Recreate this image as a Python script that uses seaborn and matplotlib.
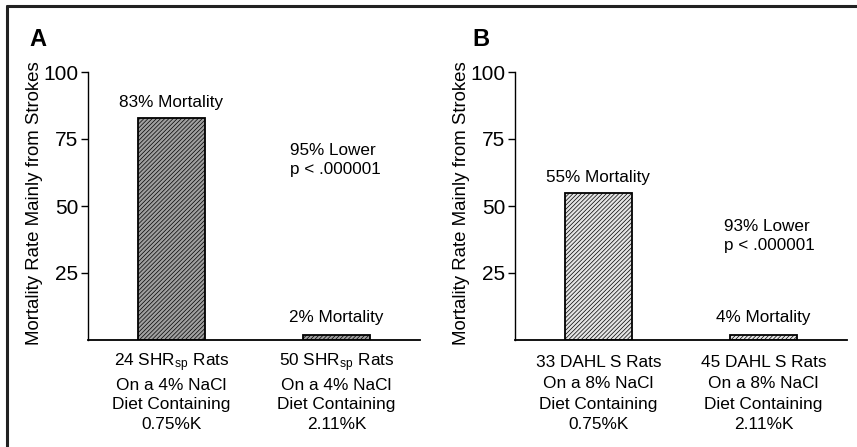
import matplotlib
matplotlib.use("Agg")
import matplotlib.pyplot as plt
import seaborn as sns
import pandas as pd
from matplotlib.lines import Line2D

# ---- data ----
cats_a = ["24 SHR$_{sp}$ Rats\nOn a 4% NaCl\nDiet Containing\n0.75%K",
          "50 SHR$_{sp}$ Rats\nOn a 4% NaCl\nDiet Containing\n2.11%K"]
vals_a = [83, 2]
bar_text_a = ["83% Mortality", "2% Mortality"]
note_a = "95% Lower\np < .000001"

cats_b = ["33 DAHL S Rats\nOn a 8% NaCl\nDiet Containing\n0.75%K",
          "45 DAHL S Rats\nOn a 8% NaCl\nDiet Containing\n2.11%K"]
vals_b = [55, 2]
bar_text_b = ["55% Mortality", "4% Mortality"]
note_b = "93% Lower\np < .000001"

yticks = [25, 50, 75, 100]
ylabel = "Mortality Rate Mainly from Strokes"

sns.set_theme(style="ticks")
plt.rcParams["font.family"] = ["Liberation Sans", "DejaVu Sans"]
plt.rcParams["mathtext.default"] = "regular"
plt.rcParams["hatch.linewidth"] = 0.5
plt.rcParams["text.color"] = "black"
plt.rcParams["xtick.color"] = "black"
plt.rcParams["ytick.color"] = "black"
plt.rcParams["xtick.labelcolor"] = "black"
plt.rcParams["ytick.labelcolor"] = "black"

W, H = 857, 447
fig = plt.figure(figsize=(W / 100, H / 100), dpi=100)

def fx(px):
    return px / W

def fy(py):
    return 1 - py / H

panels = [
    (0, cats_a, vals_a, bar_text_a, note_a, "A", "#a0a0a0", "#303030", (290, 160), 0),
    (427, cats_b, vals_b, bar_text_b, note_b, "B", "#e4e4e4", "#808080", (297, 236), 1),
]

for off, cats, vals, btxt, note, letter, face, hcol, notepos, idx in panels:
    ax = fig.add_axes([fx(off + 88), fy(340), fx(332), fy(72) - fy(340)])
    df = pd.DataFrame({"cat": cats, "val": vals})
    plt.rcParams["hatch.color"] = hcol
    sns.barplot(data=df, x="cat", y="val", ax=ax, color=face, width=0.406,
                edgecolor="black", linewidth=1.3, saturation=1)
    for p in ax.patches:
        p.set_hatch("////////")
        try:
            p.set_hatchcolor(hcol)
        except Exception:
            pass
        p.set_edgecolor("black")
    ax.set_xlim(-0.506, 1.506)
    ax.set_ylim(0, 100)
    ax.set_yticks(yticks)
    ax.set_yticklabels([str(t) for t in yticks], fontsize=15)
    ax.tick_params(axis="y", length=5, width=1, pad=2, colors="black")
    ax.tick_params(axis="x", length=0, pad=11 if idx else 8)
    for lab in ax.get_xticklabels():
        lab.set_fontsize(12.4)
        lab.set_linespacing(1.47 if idx else 1.36)
        lab.set_verticalalignment("top")
        lab.set_color("black")
    ax.set_xlabel("")
    ax.set_ylabel("")
    sns.despine(ax=ax)
    ax.spines["left"].set_linewidth(1)
    ax.spines["bottom"].set_linewidth(1.3)
    ax.spines["left"].set_color("black")
    ax.spines["bottom"].set_color("black")
    ax.set_facecolor("white")
    # bar annotations
    for i, (v, t) in enumerate(zip(vals, btxt)):
        ty = v + 3.0 if v > 10 else 5.5
        ax.text(i, ty, t, ha="center", va="bottom", fontsize=12.3, color="black")
    # note
    fig.text(fx(off + notepos[0]), fy(notepos[1]), note, ha="left", va="center",
             fontsize=12.3, linespacing=1.3, color="black")
    # y label
    fig.text(fx(off + 35), fy(203), ylabel, rotation=90, ha="center", va="center",
             fontsize=13.4, color="black")
    # panel letter
    fig.text(fx(off + 29 + (16 if idx else 0)), fy(39), letter, ha="left", va="center",
             fontsize=17, fontweight="bold", color="black")

# figure border (top and left)
fig.add_artist(Line2D([fx(7), fx(7)], [0, fy(6)], color="#222222", lw=2.2,
                      transform=fig.transFigure))
fig.add_artist(Line2D([fx(7), 1], [fy(6), fy(6)], color="#222222", lw=2.2,
                      transform=fig.transFigure))

fig.savefig("out.png", dpi=100, facecolor="white")
